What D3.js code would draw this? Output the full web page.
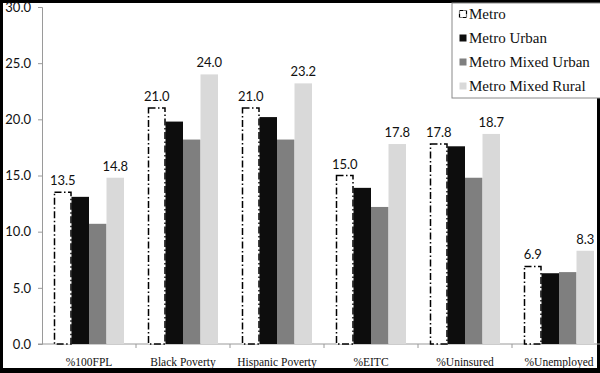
<!DOCTYPE html>
<html>
<head>
<meta charset="utf-8">
<script src="https://cdn.jsdelivr.net/npm/d3@7"></script>
<style>
  body { margin: 0; background: #000; }
  svg { display: block; }
</style>
</head>
<body>
<div id="chart"></div>
<script>
// Data
var categories = ["%100FPL", "Black Poverty", "Hispanic Poverty", "%EITC", "%Uninsured", "%Unemployed"];
var seriesNames = ["Metro", "Metro Urban", "Metro Mixed Urban", "Metro Mixed Rural"];
var metro = [13.5, 21.0, 21.0, 15.0, 17.8, 6.9];
var metroUrban = [13.1, 19.8, 20.2, 13.9, 17.6, 6.3];
var metroMixedUrban = [10.7, 18.2, 18.2, 12.2, 14.8, 6.4];
var metroMixedRural = [14.8, 24.0, 23.2, 17.8, 18.7, 8.3];
var yTicks = [0, 5, 10, 15, 20, 25, 30];
var labelled = ["Metro", "Metro Mixed Rural"]; // only these carry value labels

var W = 600, H = 373;
var fills = {"Metro": "#fff", "Metro Urban": "#0d0d0d", "Metro Mixed Urban": "#7f7f7f", "Metro Mixed Rural": "#d9d9d9"};
var dash = "7,2.5,1.5,2.5";

var series = [metro, metroUrban, metroMixedUrban, metroMixedRural].map(function(vals, i) {
  return {id: seriesNames[i], values: vals};
});

var svg = d3.select("#chart").append("svg")
  .attr("width", W).attr("height", H);

// white page inside the black frame
svg.append("rect")
  .attr("x", 3).attr("y", 3).attr("width", 594).attr("height", 365)
  .attr("fill", "#fff");

var g = svg.append("g");

var x0 = d3.scaleBand().domain(categories).range([42, 42 + 94 * 6]);
var x1 = d3.scaleBand().domain(seriesNames).range([12, 82]);
var y = d3.scaleLinear().domain([0, 30]).range([344, 7]);

// y axis
var yAxis = d3.axisLeft(y).tickValues(yTicks).tickFormat(d3.format(".1f")).tickSize(4).tickPadding(7);
var ya = g.append("g").attr("transform", "translate(42,0)").call(yAxis);
ya.select(".domain").attr("stroke", "#9a9a9a");
ya.selectAll(".tick line").attr("stroke", "#9a9a9a");
ya.selectAll(".tick text")
  .style("font-family", "Lato, 'Open Sans', sans-serif")
  .style("font-size", "13px")
  .attr("fill", "#111");

// x axis: line and ticks at band edges
g.append("line")
  .attr("x1", 38).attr("x2", 600).attr("y1", y(0)).attr("y2", y(0))
  .attr("stroke", "#9a9a9a");
g.selectAll(".xtick")
  .data(categories.slice(1))
  .enter().append("line")
  .attr("x1", function(d) { return x0(d); })
  .attr("x2", function(d) { return x0(d); })
  .attr("y1", y(0)).attr("y2", y(0) + 4)
  .attr("stroke", "#9a9a9a");

g.selectAll(".xlabel")
  .data(categories)
  .enter().append("text")
  .attr("x", function(d) { return x0(d) + x0.bandwidth() / 2; })
  .attr("y", 365.5)
  .attr("text-anchor", "middle")
  .style("font-family", "'Liberation Serif', 'Times New Roman', serif")
  .style("font-size", "11.5px")
  .attr("fill", "#111")
  .text(function(d) { return d; });

// bars
var grp = g.selectAll(".grp")
  .data(series)
  .enter().append("g")
  .attr("class", "grp");

grp.selectAll("rect")
  .data(function(s) { return s.values.map(function(v, i) { return {id: s.id, cat: categories[i], v: v}; }); })
  .enter().append("rect")
  .attr("x", function(d) { return x0(d.cat) + x1(d.id) + (d.id === "Metro" ? 0.5 : 0); })
  .attr("y", function(d) { return y(d.v); })
  .attr("width", function(d) { return x1.bandwidth() - (d.id === "Metro" ? 1 : 0); })
  .attr("height", function(d) { return y(0) - y(d.v); })
  .attr("fill", function(d) { return fills[d.id]; })
  .attr("stroke", function(d) { return d.id === "Metro" ? "#000" : "none"; })
  .attr("stroke-width", 1.5)
  .attr("stroke-dasharray", function(d) { return d.id === "Metro" ? dash : null; });

// value labels
grp.filter(function(s) { return labelled.indexOf(s.id) >= 0; })
  .selectAll("text")
  .data(function(s) { return s.values.map(function(v, i) { return {id: s.id, cat: categories[i], v: v}; }); })
  .enter().append("text")
  .attr("x", function(d) { return x0(d.cat) + x1(d.id) + x1.bandwidth() / 2; })
  .attr("y", function(d) { return y(d.v) - 7; })
  .attr("text-anchor", "middle")
  .style("font-family", "Lato, 'Open Sans', sans-serif")
  .style("font-size", "13px")
  .attr("fill", "#111")
  .text(function(d) { return d3.format(".1f")(d.v); });

// legend
var lg = svg.append("g").attr("transform", "translate(452,3)");
lg.append("rect")
  .attr("x", 0).attr("y", 0).attr("width", 150).attr("height", 95)
  .attr("fill", "#fff").attr("stroke", "#8a8a8a");

var item = lg.selectAll(".item")
  .data(seriesNames)
  .enter().append("g")
  .attr("transform", function(d, i) { return "translate(7," + (16 + i * 24) + ")"; });

item.append("rect")
  .attr("x", 0.5).attr("y", -8.5).attr("width", 7).attr("height", 7)
  .attr("fill", function(d) { return fills[d]; })
  .attr("stroke", function(d) { return d === "Metro" ? "#000" : "none"; })
  .attr("stroke-width", 1.2)
  .attr("stroke-dasharray", function(d) { return d === "Metro" ? "4,1,1,1" : null; });

item.append("text")
  .attr("x", 10).attr("y", 0)
  .style("font-family", "'Liberation Serif', 'Times New Roman', serif")
  .style("font-size", "15px")
  .attr("fill", "#111")
  .text(function(d) { return d; });
</script>
</body>
</html>
